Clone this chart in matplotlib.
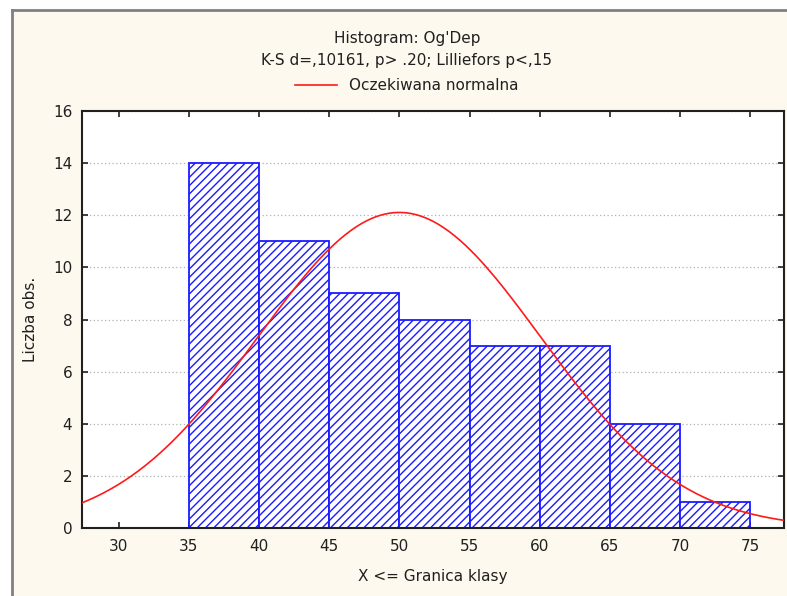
import numpy as np
import matplotlib.pyplot as plt
from matplotlib.lines import Line2D

# histogram bins (upper bound of class) and counts
bin_left = [35, 40, 45, 50, 55, 60, 65, 70]
counts = [14, 11, 9, 8, 7, 7, 4, 1]
bin_w = 5

# expected normal
mu = 50.0
sigma = 10.05
n_obs = sum(counts)

xticks = [30, 35, 40, 45, 50, 55, 60, 65, 70, 75]
yticks = [0, 2, 4, 6, 8, 10, 12, 14, 16]

plt.rcParams['font.family'] = ['DejaVu Sans']
plt.rcParams['hatch.color'] = '#1a1aff'
plt.rcParams['hatch.linewidth'] = 1.0

bg = '#fdf9ee'
fs = 11
fig = plt.figure(figsize=(7.87, 5.96), dpi=100)
fig.patch.set_facecolor('white')

# cream panel with gray top/left border
panel = fig.add_axes([12/787, 0, 1 - 12/787, 1 - 10/596])
panel.set_facecolor(bg)
panel.set_xticks([])
panel.set_yticks([])
for s in ['right', 'bottom']:
    panel.spines[s].set_visible(False)
for s in ['top', 'left']:
    panel.spines[s].set_color('#808080')
    panel.spines[s].set_linewidth(2)

ax = fig.add_axes([82/787, 1 - 528/596, (784 - 82)/787, (528 - 111)/596])
ax.set_facecolor('white')

ax.bar(bin_left, counts, width=bin_w, align='edge', facecolor='white',
       edgecolor='#1a1aff', hatch='////', linewidth=1.3, zorder=2)

xx = np.linspace(27.4, 77.4, 400)
yy = n_obs * bin_w / (sigma * np.sqrt(2*np.pi)) * np.exp(-(xx - mu)**2 / (2*sigma**2))
ax.plot(xx, yy, color='#ff1a1a', lw=1.2, zorder=3)

ax.set_xlim(27.4, 77.4)
ax.set_ylim(0, 16)
ax.set_xticks(xticks)
ax.set_yticks(yticks)
ax.tick_params(direction='in', length=4, width=1.2, top=True, right=True,
               labelsize=fs, pad=7, colors='#202020')
ax.tick_params(axis='x', pad=8)
ax.yaxis.grid(True, linestyle=(0, (1, 2)), color='#b0b0b0', lw=0.9, zorder=0)
for s in ax.spines.values():
    s.set_linewidth(1.5)
    s.set_color('#202020')

ax.set_xlabel('X <= Granica klasy', fontsize=fs, labelpad=11, color='#202020')
ax.set_ylabel('Liczba obs.', fontsize=fs, labelpad=11, color='#202020')

fig.text(0.517, 1 - 38/596, "Histogram: Og'Dep", ha='center', va='center', fontsize=fs, color='#202020')
fig.text(0.517, 1 - 61/596, 'K-S d=,10161, p> .20; Lilliefors p<,15', ha='center', va='center', fontsize=fs, color='#202020')
fig.legend(handles=[Line2D([], [], color='#ff1a1a', lw=1.2)], labels=['Oczekiwana normalna'],
           loc='center', bbox_to_anchor=(0.517, 1 - 86/596), frameon=False,
           fontsize=fs, handlelength=2.7, labelcolor='#202020')

fig.savefig('out.png', dpi=100, facecolor=fig.get_facecolor())
